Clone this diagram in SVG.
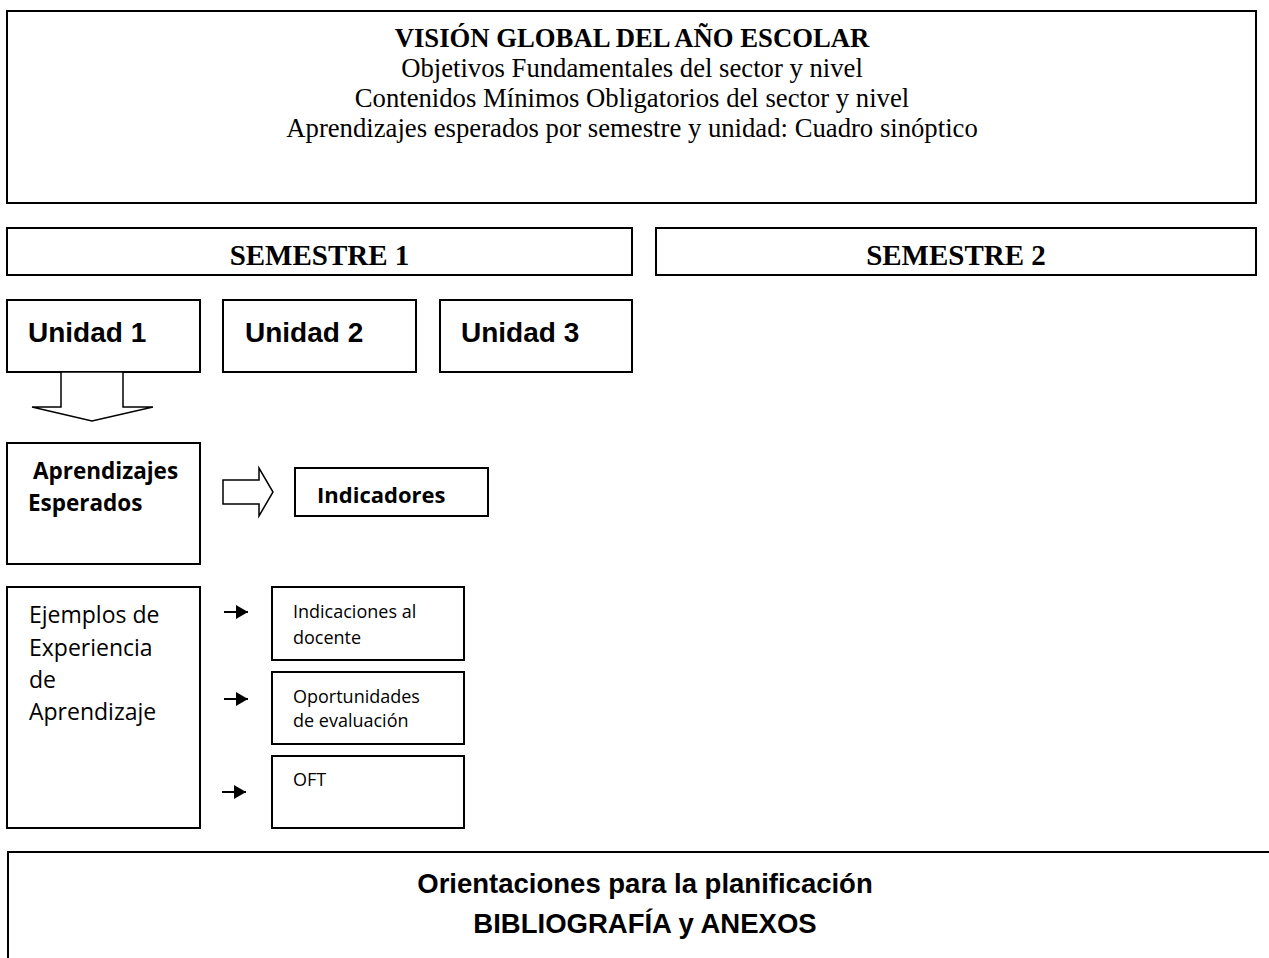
<svg xmlns="http://www.w3.org/2000/svg" width="1269" height="958" viewBox="0 0 1269 958">
<defs>
<style>
.box{fill:#fff;stroke:#000;stroke-width:2}
.serif{font-family:"Liberation Serif","Times New Roman",serif;fill:#000}
.arial{font-family:"Liberation Sans",Arial,sans-serif;font-weight:bold;fill:#000}
.soft{font-family:"Open Sans","Noto Sans",sans-serif;fill:#000}
.hollow{fill:#fff;stroke:#000;stroke-width:1.5;stroke-linejoin:miter}
.thin{stroke:#000;stroke-width:2;fill:none}
</style>
<marker id="ah" markerWidth="12" markerHeight="14" refX="12" refY="7" orient="auto" markerUnits="userSpaceOnUse">
<path d="M0,0 L12,7 L0,14 z" fill="#000"/>
</marker>
</defs>
<rect width="1269" height="958" fill="#fff"/>

<g id="vision">
<rect class="box" x="7" y="11" width="1249" height="192"/>
<text class="serif" x="632" y="47" font-size="26.7" font-weight="bold" text-anchor="middle">VISIÓN GLOBAL DEL AÑO ESCOLAR</text>
<text class="serif" x="632" y="77" font-size="26.7" text-anchor="middle">Objetivos Fundamentales del sector y nivel</text>
<text class="serif" x="632" y="107" font-size="26.7" text-anchor="middle">Contenidos Mínimos Obligatorios del sector y nivel</text>
<text class="serif" x="632" y="137" font-size="26.7" text-anchor="middle">Aprendizajes esperados por semestre y unidad: Cuadro sinóptico</text>
</g>

<g id="semestre1">
<rect class="box" x="7" y="228" width="625" height="47"/>
<text class="serif" x="319.5" y="265" font-size="29" font-weight="bold" text-anchor="middle">SEMESTRE 1</text>
</g>
<g id="semestre2">
<rect class="box" x="656" y="228" width="600" height="47"/>
<text class="serif" x="956" y="265" font-size="29" font-weight="bold" text-anchor="middle">SEMESTRE 2</text>
</g>

<g id="unidad1">
<rect class="box" x="7" y="300" width="193" height="72"/>
<text class="arial" x="28" y="342" font-size="28">Unidad 1</text>
</g>
<g id="unidad2">
<rect class="box" x="223" y="300" width="193" height="72"/>
<text class="arial" x="245" y="342" font-size="28">Unidad 2</text>
</g>
<g id="unidad3">
<rect class="box" x="440" y="300" width="192" height="72"/>
<text class="arial" x="461" y="342" font-size="28">Unidad 3</text>
</g>

<g id="aprendizajes">
<rect class="box" x="7" y="443" width="193" height="121"/>
<text class="soft" font-weight="bold" font-size="22.5"><tspan x="33" y="479">Aprendizajes</tspan><tspan x="28" y="511">Esperados</tspan></text>
</g>
<g id="indicadores">
<rect class="box" x="295" y="468" width="193" height="48"/>
<text class="soft" font-weight="bold" font-size="22" x="317" y="503">Indicadores</text>
</g>

<g id="ejemplos">
<rect class="box" x="7" y="587" width="193" height="241"/>
<text class="soft" font-size="23"><tspan x="29" y="623">Ejemplos de</tspan><tspan x="29" y="656">Experiencia</tspan><tspan x="29" y="688">de</tspan><tspan x="29" y="720">Aprendizaje</tspan></text>
</g>
<g id="indicaciones">
<rect class="box" x="272" y="587" width="192" height="73"/>
<text class="soft" font-size="18"><tspan x="293" y="618">Indicaciones al</tspan><tspan x="293" y="644">docente</tspan></text>
</g>
<g id="oportunidades">
<rect class="box" x="272" y="672" width="192" height="72"/>
<text class="soft" font-size="18"><tspan x="293" y="703">Oportunidades</tspan><tspan x="293" y="727">de evaluación</tspan></text>
</g>
<g id="oft">
<rect class="box" x="272" y="756" width="192" height="72"/>
<text class="soft" font-size="18" x="293" y="786">OFT</text>
</g>

<g id="orientaciones">
<rect class="box" x="8" y="852" width="1290" height="130"/>
<text class="arial" x="645" y="893" font-size="27.5" text-anchor="middle">Orientaciones para la planificación</text>
<text class="arial" x="645" y="933" font-size="27.5" text-anchor="middle">BIBLIOGRAFÍA y ANEXOS</text>
</g>

<g id="connectors">
<polygon class="hollow" points="61,372 61,407 32,407 92,421 153,407 123,407 123,372"/>
<polygon class="hollow" points="223,480 259,480 259,468 273,492 259,516 259,504 223,504"/>
<line class="thin" x1="224" y1="612" x2="248" y2="612" marker-end="url(#ah)"/>
<line class="thin" x1="224" y1="699" x2="248" y2="699" marker-end="url(#ah)"/>
<line class="thin" x1="222" y1="792" x2="246" y2="792" marker-end="url(#ah)"/>
</g>
</svg>
